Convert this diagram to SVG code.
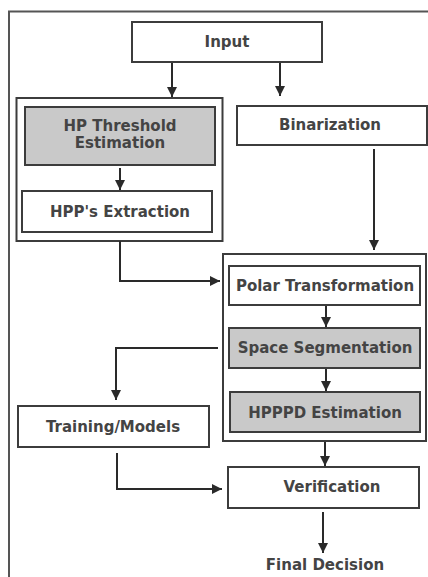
<svg xmlns="http://www.w3.org/2000/svg" width="428" height="577" viewBox="0 0 428 577">
<defs>
<style>
.box{fill:#fff;stroke:#3c3c3c;stroke-width:2}
.gray{fill:#c9c9c9;stroke:#3c3c3c;stroke-width:2}
.grp{fill:none;stroke:#3c3c3c;stroke-width:2}
.t{font-family:"DejaVu Sans",Verdana,sans-serif;font-weight:bold;font-size:15px;fill:#444;text-anchor:middle}
.c{fill:none;stroke:#2a2a2a;stroke-width:2}
</style>
<marker id="ah" viewBox="0 0 10 10" refX="10" refY="5" markerWidth="5" markerHeight="5" orient="auto" markerUnits="strokeWidth">
<path d="M0,0 L10,5 L0,10 z" fill="#2a2a2a"/>
</marker>
</defs>
<rect x="0" y="0" width="428" height="577" fill="#fff"/>
<path d="M9,577 V11.5 H428" fill="none" stroke="#555" stroke-width="2"/>

<g id="group-left"><rect class="grp" x="16.5" y="98" width="206" height="143"/></g>
<g id="group-right"><rect class="grp" x="223" y="254" width="203" height="187"/></g>

<g id="input"><rect class="box" x="132" y="22" width="190" height="40"/><text class="t" x="227" y="47">Input</text></g>
<g id="hp-threshold"><rect class="gray" x="25" y="107" width="190" height="58"/><text class="t" x="120" y="131">HP Threshold</text><text class="t" x="120" y="148">Estimation</text></g>
<g id="hpp-extraction"><rect class="box" x="22" y="191" width="190" height="41"/><text class="t" x="120" y="217">HPP's Extraction</text></g>
<g id="binarization"><rect class="box" x="237" y="106" width="190" height="39"/><text class="t" x="330" y="130">Binarization</text></g>
<g id="polar"><rect class="box" x="229" y="266" width="191" height="39"/><text class="t" x="325" y="291">Polar Transformation</text></g>
<g id="space"><rect class="gray" x="229" y="328" width="191" height="40"/><text class="t" x="325" y="353">Space Segmentation</text></g>
<g id="hpppd"><rect class="gray" x="230" y="392" width="190" height="40"/><text class="t" x="325" y="418">HPPPD Estimation</text></g>
<g id="training"><rect class="box" x="18" y="406" width="191" height="41"/><text class="t" x="113" y="432">Training/Models</text></g>
<g id="verification"><rect class="box" x="228" y="467" width="191" height="41"/><text class="t" x="332" y="492">Verification</text></g>
<g id="final"><text class="t" x="325" y="570">Final Decision</text></g>

<g id="connectors">
<path class="c" d="M172,63 V97" marker-end="url(#ah)"/>
<path class="c" d="M280,63 V96" marker-end="url(#ah)"/>
<path class="c" d="M120,168 V190" marker-end="url(#ah)"/>
<path class="c" d="M374,149 V250" marker-end="url(#ah)"/>
<path class="c" d="M120,241 V281 H220" marker-end="url(#ah)"/>
<path class="c" d="M326,306 V327" marker-end="url(#ah)"/>
<path class="c" d="M218,348 H116 V400" marker-end="url(#ah)"/>
<path class="c" d="M326,369 V391" marker-end="url(#ah)"/>
<path class="c" d="M325,442 V466" marker-end="url(#ah)"/>
<path class="c" d="M117,453 V489 H222" marker-end="url(#ah)"/>
<path class="c" d="M323,512 V553" marker-end="url(#ah)"/>
</g>
</svg>
